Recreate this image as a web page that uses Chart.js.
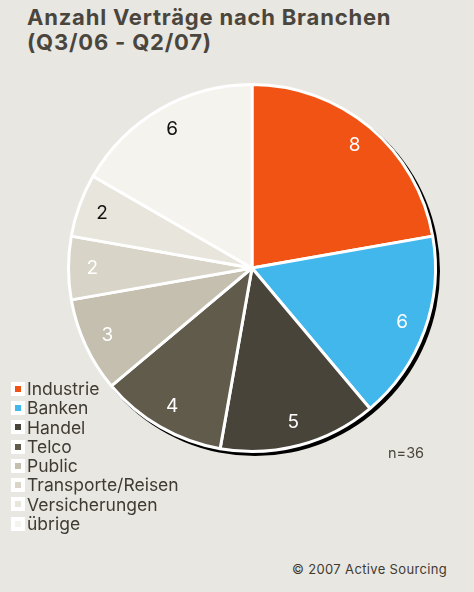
<!DOCTYPE html>
<html>
<head>
<meta charset="utf-8">
<script src="https://cdn.jsdelivr.net/npm/chart.js@4/dist/chart.umd.min.js"></script>
<style>
  html, body { margin: 0; padding: 0; }
  body {
    width: 474px; height: 592px; position: relative; overflow: hidden;
    background: #e9e7e1; font-family: Inter, 'Liberation Sans', Arial, sans-serif; color: #3f3b33;
  }
  .title { position: absolute; left: 27px; top: 5px; font-size: 22px; font-weight: 700; letter-spacing: 0.8px; line-height: 25px; color: #4a463d; }
  #pie { position: absolute; left: 52px; top: 68px; }
  .legend { position: absolute; left: 11px; top: 379px; font-size: 17.5px; line-height: 19.3px; }
  .legend div { display: flex; align-items: center; white-space: nowrap; }
  .legend i { display: inline-block; width: 6px; height: 6px; border: 4px solid #fff; margin-right: 2px; }
  .n { position: absolute; left: 388px; top: 444px; font-size: 14.5px; color: #4a463d; }
  .copy { position: absolute; left: 292px; top: 561px; font-size: 13px; letter-spacing: 0.35px; color: #3f3b33; }
</style>
</head>
<body>
<div class="title">Anzahl Verträge nach Branchen<br>(Q3/06 - Q2/07)</div>
<canvas id="pie" width="400" height="400"></canvas>
<div class="legend" id="legend"></div>
<div class="n">n=36</div>
<div class="copy">© 2007 Active Sourcing</div>
<script>
  /* ── DATA ── */
  const categories = ['Industrie', 'Banken', 'Handel', 'Telco', 'Public', 'Transporte/Reisen', 'Versicherungen', 'übrige'];
  const contracts  = [8, 6, 5, 4, 3, 2, 2, 6];
  const colors     = ['#f05314', '#41b7eb', '#48443a', '#615b4b', '#c4bfae', '#d8d4c8', '#e8e5dd', '#f5f3ee'];
  const labelInk   = ['#fff', '#fff', '#fff', '#fff', '#fff', '#fff', '#111', '#111'];

  /* ── LEGEND ── */
  document.getElementById('legend').innerHTML = categories
    .map((c, i) => `<div><i style="background:${colors[i]}"></i>${c}</div>`).join('');

  /* ── PLUGINS ── */
  const shadow = {
    id: 'shadow',
    beforeDatasetsDraw(chart) {
      const a = chart.getDatasetMeta(0).data[0];
      if (!a) return;
      const ctx = chart.ctx;
      ctx.save();
      ctx.fillStyle = '#000';
      ctx.beginPath();
      ctx.arc(a.x + 3, a.y + 3, a.outerRadius + 1.5, 0, Math.PI * 2);
      ctx.fill();
      ctx.restore();
    }
  };

  const sliceLabels = {
    id: 'sliceLabels',
    afterDatasetsDraw(chart) {
      const ctx = chart.ctx;
      const vals = chart.data.datasets[0].data;
      ctx.save();
      ctx.font = '19px Inter, "Liberation Sans", Arial, sans-serif';
      ctx.textAlign = 'center';
      ctx.textBaseline = 'middle';
      chart.getDatasetMeta(0).data.forEach((el, i) => {
        const p = el.getProps(['x', 'y', 'startAngle', 'endAngle', 'outerRadius'], true);
        const mid = (p.startAngle + p.endAngle) / 2;
        const r = p.outerRadius * 0.87;
        ctx.fillStyle = labelInk[i];
        ctx.fillText(vals[i], p.x + Math.cos(mid) * r, p.y + Math.sin(mid) * r);
      });
      ctx.restore();
    }
  };

  /* ── CHART ── */
  new Chart(document.getElementById('pie'), {
    type: 'pie',
    data: {
      labels: categories,
      datasets: [{
        data: contracts,
        backgroundColor: colors,
        borderColor: '#fff',
        borderWidth: 3
      }]
    },
    options: {
      responsive: false,
      animation: false,
      layout: { padding: 15 },
      plugins: { legend: { display: false }, tooltip: { enabled: false } }
    },
    plugins: [shadow, sliceLabels]
  });
</script>
</body>
</html>
